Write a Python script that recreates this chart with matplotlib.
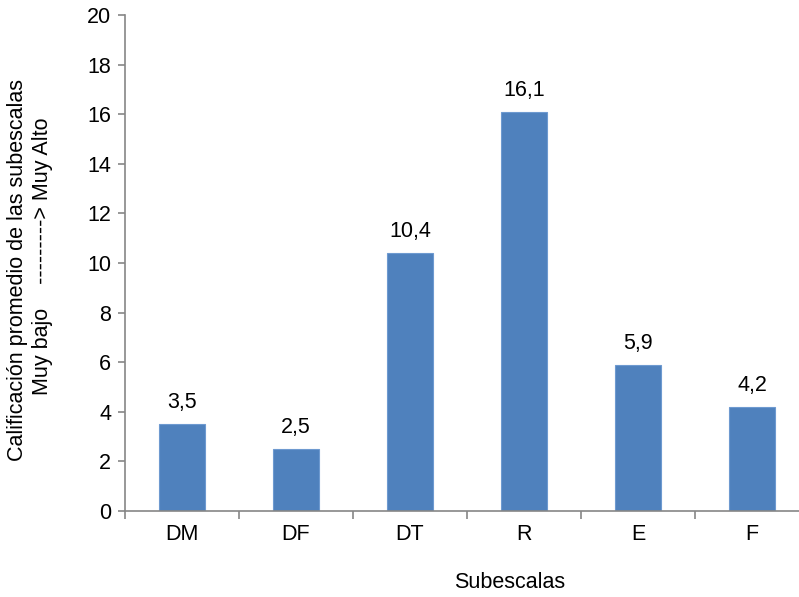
import matplotlib
matplotlib.use("Agg")
import matplotlib.pyplot as plt

plt.rcParams['font.family'] = ['Liberation Sans', 'DejaVu Sans']

categories = ["DM", "DF", "DT", "R", "E", "F"]
values = [3.5, 2.5, 10.4, 16.1, 5.9, 4.2]
value_labels = ["3,5", "2,5", "10,4", "16,1", "5,9", "4,2"]
y_ticks = [0, 2, 4, 6, 8, 10, 12, 14, 16, 18, 20]

FS = 15.5
W, H = 799, 597
fig = plt.figure(figsize=(W / 100, H / 100), dpi=100)
ax = fig.add_axes([125 / W, 86 / H, 684 / W, 496 / H])

x = list(range(len(categories)))
ax.bar(x, values, width=0.41, color="#4F81BD", edgecolor="#6E9AD0", linewidth=0.8, zorder=2)

for xi, v, lab in zip(x, values, value_labels):
    ax.annotate(lab, (xi, v), xytext=(0, 8), textcoords="offset points",
                ha="center", va="bottom", fontsize=FS, color="black")

ax.set_xlim(-0.5, len(categories) - 0.5)
ax.set_ylim(0, 20)
ax.set_yticks(y_ticks)
ax.set_yticklabels([str(t) for t in y_ticks])

ax.set_xticks(x)
ax.set_xticklabels(categories)
ax.set_xticks([i + 0.5 for i in range(-1, len(categories))], minor=True)
ax.tick_params(axis="x", which="major", length=0, pad=9, labelsize=FS)
ax.tick_params(axis="x", which="minor", length=6, width=1.2, color="#868686", direction="out")
ax.tick_params(axis="y", length=5, width=1.2, color="#868686", direction="out", pad=5, labelsize=FS)

for side in ("top", "right"):
    ax.spines[side].set_visible(False)
for side in ("left", "bottom"):
    ax.spines[side].set_color("#868686")
    ax.spines[side].set_linewidth(1.2)

fig.text(18 / W, 1 - 270 / H, "Calificación promedio de las subescalas",
         rotation=90, ha="center", va="center", fontsize=FS)
fig.text(43 / W, 1 - 256 / H, "Muy bajo    ---------> Muy Alto",
         rotation=90, ha="center", va="center", fontsize=FS)
fig.text(510 / W, 1 - 582 / H, "Subescalas", ha="center", va="center", fontsize=FS)

fig.savefig("out.png", dpi=100)
